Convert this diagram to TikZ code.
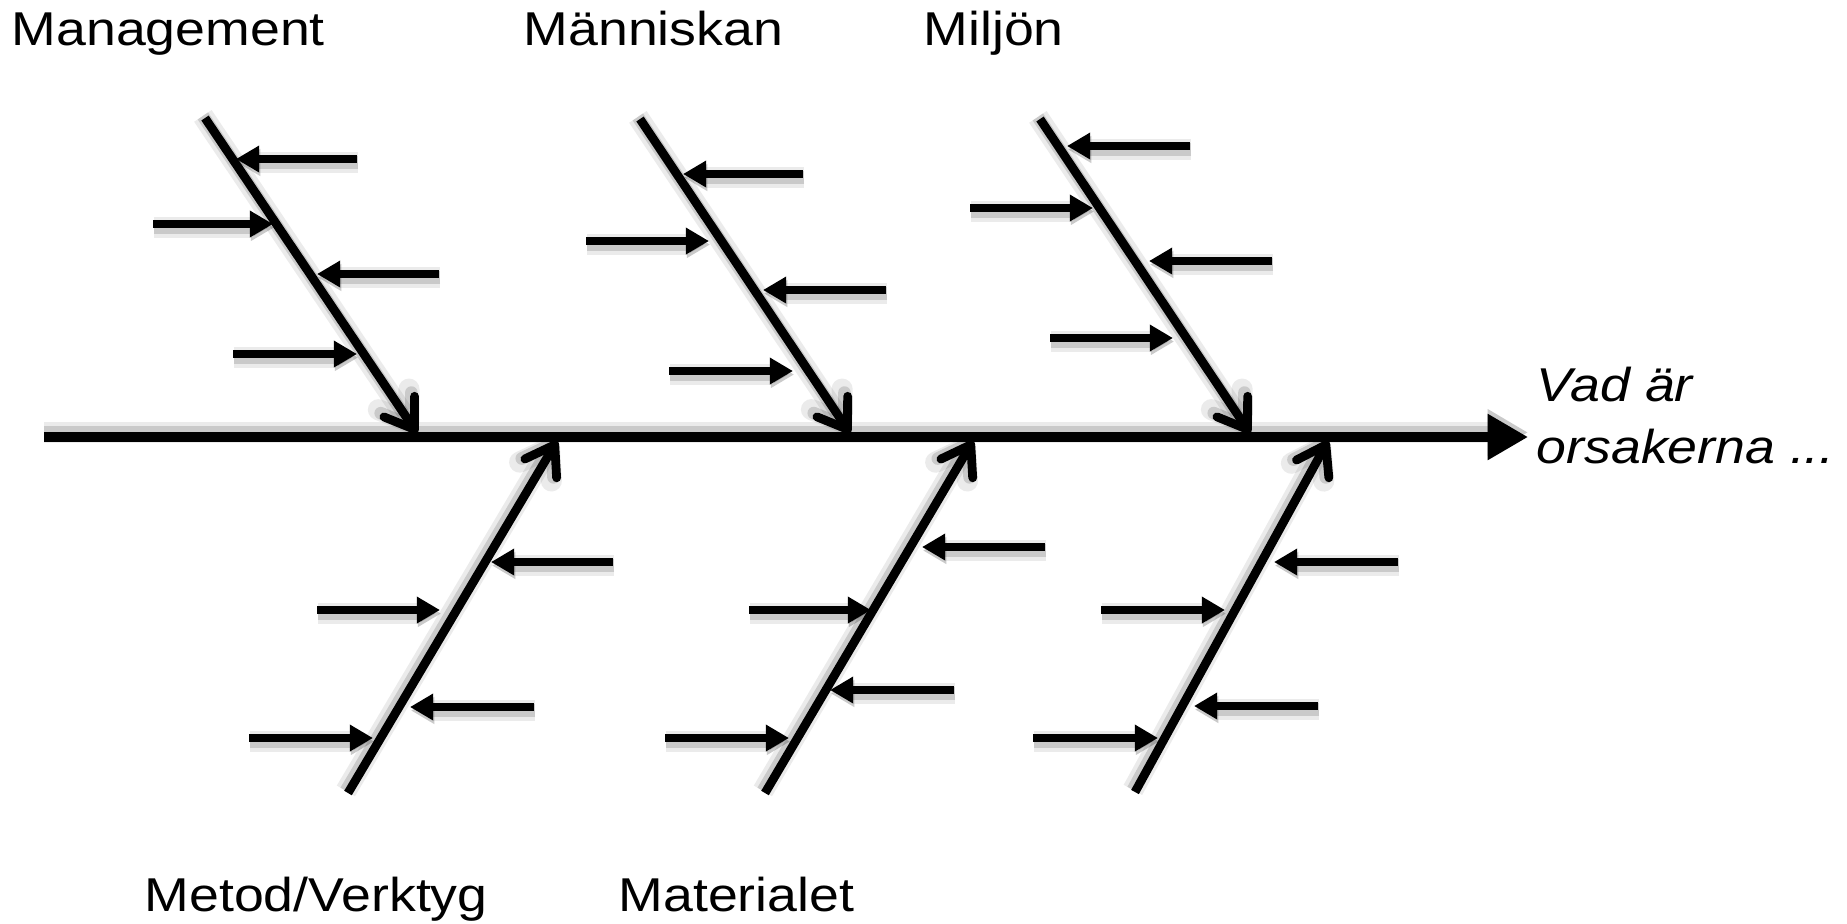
\documentclass[tikz,border=0pt]{standalone}
\usepackage{fontspec}
\setmainfont{Liberation Sans}[FakeStretch=1.13]
\usetikzlibrary{arrows.meta}
\begin{document}
\begin{tikzpicture}[x=0.01cm,y=-0.01cm,
  shd/.style={preaction={draw=black,opacity=0.08,line width=6pt,transform canvas={shift={#1}}},
              preaction={draw=black,opacity=0.14,line width=3.6pt,transform canvas={shift={#1}}}},
  spine/.style={line width=2.6pt,-{Triangle[length=11.5pt,width=12.5pt]},shd={(0pt,1.3pt)}},
  bone/.style={line width=2.5pt,-{Straight Barb[length=7.8pt,width=10.5pt,round]},shd={(-0.6pt,0.6pt)}},
  cause/.style={line width=2.5pt,-{Triangle[length=6.6pt,width=7.2pt]},shd={(0.3pt,-1pt)}},
  lbl/.style={inner sep=0pt,anchor=base west,font=\fontsize{13.5pt}{17.4pt}\selectfont}]
\useasboundingbox (0,0) rectangle (1847,923);

% labels
\node[lbl] (tmgmt) at (11,45) {Management};
\node[lbl] (tman) at (523,45) {Människan};
\node[lbl] (tmil) at (923,45) {Miljön};
\node[lbl] (tmet) at (144,911) {Metod/Verktyg};
\node[lbl] (tmat) at (618,911) {Materialet};
\node[lbl,align=left,font=\fontsize{13.5pt}{17.4pt}\selectfont\itshape] (teff) at (1536,463) {Vad är\\orsakerna ...};

% spine
\coordinate (s0) at (44,437);
\coordinate (s1) at (1528,437);
\draw[spine] (s0) -- (s1);

% bones
\coordinate (b1a) at (205,118);  \coordinate (b1b) at (417,433);
\coordinate (b2a) at (640,119);  \coordinate (b2b) at (850,433);
\coordinate (b3a) at (1040,119); \coordinate (b3b) at (1250,433);
\coordinate (b4a) at (348,793);  \coordinate (b4b) at (557,441);
\coordinate (b5a) at (765,793);  \coordinate (b5b) at (973,441);
\coordinate (b6a) at (1135,792); \coordinate (b6b) at (1328,441);
\foreach \b in {1,...,6} \draw[bone] (b\b a) -- (b\b b);

% causes (start -> tip)
\foreach \xa/\xb/\yy in {
  357/236/159, 153/273/224, 439/317/274, 233/357/354,
  803/683/174, 586/709/241, 886/763/290, 669/793/371,
  1190/1067/146, 970/1093/208, 1272/1149/261, 1050/1173/338,
  613/491/562, 317/440/610, 534/410/707, 249/373/738,
  1045/922/547, 749/871/610, 954/830/690, 665/789/738,
  1398/1274/562, 1101/1225/610, 1318/1194/706, 1033/1158/738}
  \draw[cause] (\xa,\yy) -- (\xb,\yy);
\end{tikzpicture}
\end{document}
